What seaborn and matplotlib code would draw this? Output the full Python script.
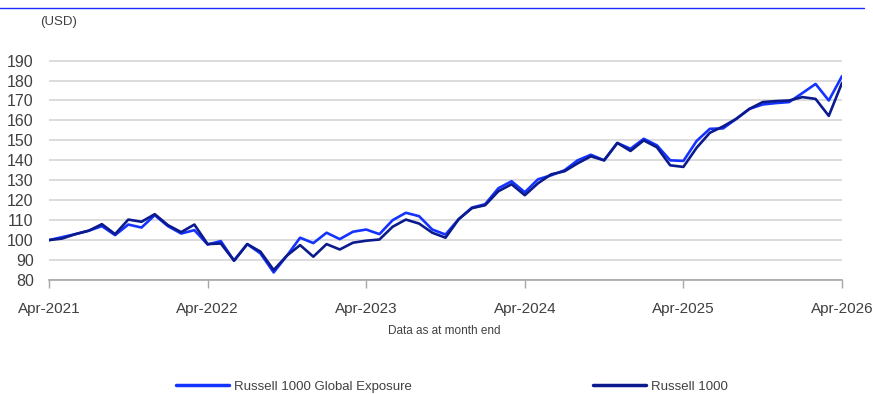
import matplotlib
matplotlib.use("Agg")
import matplotlib.pyplot as plt
import seaborn as sns
import pandas as pd
from matplotlib.lines import Line2D

# ---------------- data ----------------
months = pd.date_range("2021-04-01", "2026-04-01", freq="MS").strftime("%b-%Y").tolist()

global_exposure = [
    100.0, 101.5, 103.0, 104.7, 107.0, 102.5, 107.8, 106.3, 112.5, 107.0,
    103.3, 105.0, 97.8, 99.5, 89.7, 98.0, 93.3, 83.8, 92.2, 101.2,
    98.5, 103.7, 100.5, 104.2, 105.3, 103.0, 110.0, 113.7, 112.0, 105.3,
    102.8, 110.5, 116.3, 118.0, 126.0, 129.5, 124.0, 130.5, 132.5, 135.0,
    140.0, 142.8, 140.0, 148.7, 145.8, 150.8, 147.5, 140.0, 139.7, 149.7,
    155.8, 156.0, 160.8, 165.8, 168.0, 168.7, 169.2, 173.7, 178.3, 170.0,
    182.2,
]
russell_1000 = [
    100.0, 100.8, 103.0, 104.7, 108.0, 103.0, 110.3, 109.2, 113.0, 107.5,
    104.0, 107.8, 98.0, 98.3, 89.7, 98.0, 94.2, 85.0, 92.2, 97.5,
    91.7, 98.0, 95.3, 98.7, 99.7, 100.3, 106.7, 110.3, 108.3, 103.7,
    101.2, 110.5, 116.0, 117.5, 124.5, 128.0, 122.5, 128.5, 133.0, 134.5,
    138.5, 142.0, 140.0, 148.7, 144.7, 150.0, 146.5, 137.5, 136.7, 146.3,
    153.8, 157.0, 160.8, 165.8, 169.2, 169.7, 170.0, 171.7, 170.8, 162.3,
    178.8,
]
series_names = ["Russell 1000 Global Exposure", "Russell 1000"]
series_colors = ["#1433ff", "#0b1a8c"]
tick_labels = ["Apr-2021", "Apr-2022", "Apr-2023", "Apr-2024", "Apr-2025", "Apr-2026"]
y_ticks = list(range(80, 200, 10))

# ---------------- build frame ----------------
n = len(months)
df = pd.DataFrame({
    "month": months * 2,
    "idx": list(range(n)) * 2,
    "value": global_exposure + russell_1000,
    "series": [series_names[0]] * n + [series_names[1]] * n,
})

sns.set_theme(style="white")
plt.rcParams["font.family"] = ["Liberation Sans", "DejaVu Sans"]

fig = plt.figure(figsize=(8.73, 3.94), dpi=100)
ax = fig.add_axes([49 / 873, 1 - 280 / 394, (842 - 49) / 873, 220 / 394])

sns.lineplot(data=df, x="idx", y="value", hue="series",
             hue_order=series_names, palette=series_colors,
             linewidth=1.9, ax=ax, legend=False)

ax.set_xlim(0, n - 1)
ax.set_ylim(80, 190.3)
ax.set_yticks(y_ticks)
ax.set_xticks([months.index(t) for t in tick_labels])
ax.set_xticklabels(tick_labels)
ax.set_xlabel("")
ax.set_ylabel("")

ax.yaxis.grid(True, color="#d9d9d9", linewidth=1.3)
ax.xaxis.grid(False)
ax.set_axisbelow(True)
for s in ["left", "top", "right"]:
    ax.spines[s].set_visible(False)
ax.spines["bottom"].set_color("#a6a6a6")
ax.spines["bottom"].set_linewidth(1.2)

ax.tick_params(axis="y", length=0, pad=11, labelsize=11.5, labelcolor="#404040")
ax.tick_params(axis="x", bottom=True, length=6, width=1, color="#a6a6a6",
               direction="out", pad=10, labelsize=11, labelcolor="#404040")

# ---------------- annotation texts ----------------
fig.text(40 / 873, 1 - 22 / 394, "(USD)", fontsize=9.5, color="#404040",
         ha="left", va="center")
fig.text(444 / 873, 1 - 331 / 394, "Data as at month end", fontsize=8.5,
         color="#404040", ha="center", va="center")

# top rule
fig.add_artist(Line2D([0, 0.99], [1 - 8 / 394] * 2, transform=fig.transFigure,
                      color="#1a2cff", linewidth=1))

# legend
handles = [Line2D([], [], color=c, linewidth=2.5) for c in series_colors]
fig.legend(handles, series_names, loc="center", bbox_to_anchor=(452 / 873, 1 - 386.5 / 394),
           ncol=2, frameon=False, fontsize=9.5, handlelength=4.0,
           handletextpad=0.4, columnspacing=13.7, labelcolor="#404040")

fig.savefig("out.png", dpi=100)
